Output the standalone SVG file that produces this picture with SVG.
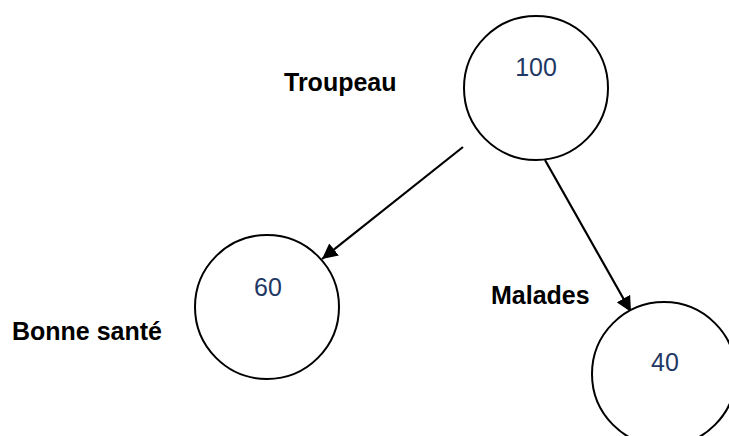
<svg xmlns="http://www.w3.org/2000/svg" width="729" height="436" viewBox="0 0 729 436">
<defs>
<style>
.node{fill:#fff;stroke:#000;stroke-width:2}
.num{font-family:"Liberation Sans",Arial,sans-serif;font-size:25px;fill:#1f3864;text-anchor:middle}
.lbl{font-family:"Liberation Sans",Arial,sans-serif;font-size:25px;font-weight:bold;fill:#000}
.edge{stroke:#000;stroke-width:2.2;fill:none}
</style>
<marker id="arr" viewBox="0 0 10 10" refX="10" refY="5" markerWidth="7" markerHeight="7" orient="auto" markerUnits="strokeWidth">
<path d="M0,0 L10,5 L0,10 z" fill="#000"/>
</marker>
</defs>
<rect width="729" height="436" fill="#fff"/>
<g id="edges">
<line class="edge" x1="463" y1="147" x2="322" y2="259" marker-end="url(#arr)"/>
<line class="edge" x1="545" y1="160" x2="631" y2="312" marker-end="url(#arr)"/>
</g>
<g id="node-100">
<circle class="node" cx="536" cy="88" r="72"/>
<text class="num" x="536" y="76">100</text>
</g>
<g id="node-60">
<circle class="node" cx="267" cy="307" r="72"/>
<text class="num" x="268" y="296">60</text>
</g>
<g id="node-40">
<circle class="node" cx="664" cy="374" r="72"/>
<text class="num" x="665" y="371">40</text>
</g>
<g id="labels">
<text class="lbl" x="284" y="91">Troupeau</text>
<text class="lbl" x="12" y="340">Bonne santé</text>
<text class="lbl" x="491" y="304">Malades</text>
</g>
</svg>
